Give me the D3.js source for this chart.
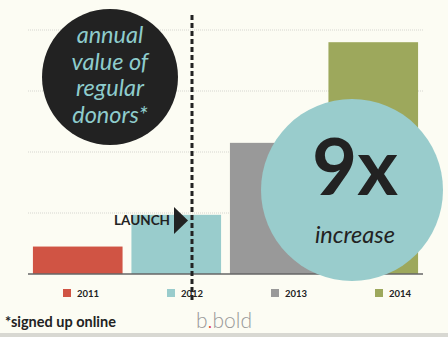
<!DOCTYPE html>
<html>
<head>
<meta charset="utf-8">
<script src="https://cdn.jsdelivr.net/npm/d3@7"></script>
<style>
  body { margin: 0; background: #fcfcf3; }
  svg { display: block; }
</style>
</head>
<body>
<div id="chart"></div>
<script>
// chart data
const years = ["2011", "2012", "2013", "2014"];
const donorValues = [0.45, 0.97, 2.15, 3.8];
const barColors = ["#d05444", "#99cccc", "#999999", "#9da85c"];
const gridTicks = [1, 2, 3, 4];
const bubbleLabel = ["annual", "value of", "regular", "donors*"];

function init() {
    let width = 448, height = 337;
    let margin = { top: 30, right: 25, bottom: 63, left: 28 };

    let svg = d3.select("#chart")
        .append("svg")
        .attr("width", width)
        .attr("height", height);

    svg.append("rect")
        .attr("width", width).attr("height", height)
        .attr("fill", "#fcfcf3");
    // gray strip at the bottom edge
    svg.append("rect")
        .attr("x", 0).attr("y", 333).attr("width", width).attr("height", 4)
        .attr("fill", "#d8d8d2");

    let x = d3.scaleBand()
        .domain(years)
        .range([margin.left, width - margin.right])
        .paddingInner(0.09)
        .paddingOuter(0.05);

    let y = d3.scaleLinear()
        .domain([0, 4])
        .range([height - margin.bottom, margin.top]);

    // gridlines
    svg.append("g")
        .selectAll("line")
        .data(gridTicks)
        .join("line")
        .attr("x1", margin.left)
        .attr("x2", width - margin.right)
        .attr("y1", d => y(d))
        .attr("y2", d => y(d))
        .attr("stroke", "#d6d6d0")
        .attr("stroke-width", 1)
        .attr("stroke-dasharray", "1,1");

    // bars
    svg.append("g")
        .selectAll("rect")
        .data(years)
        .join("rect")
        .attr("x", d => x(d))
        .attr("y", (d, i) => y(donorValues[i]))
        .attr("width", x.bandwidth())
        .attr("height", (d, i) => y(0) - y(donorValues[i]))
        .attr("fill", (d, i) => barColors[i]);

    // baseline
    svg.append("line")
        .attr("x1", margin.left).attr("x2", width - margin.right)
        .attr("y1", y(0)).attr("y2", y(0))
        .attr("stroke", "#666").attr("stroke-width", 1.5);

    // legend
    let lx = d3.scalePoint()
        .domain(years)
        .range([63, 375]);
    let legend = svg.append("g")
        .selectAll("g")
        .data(years)
        .join("g")
        .attr("transform", d => "translate(" + lx(d) + ",289)");
    legend.append("rect")
        .attr("width", 8).attr("height", 8)
        .attr("fill", (d, i) => barColors[i]);
    legend.append("text")
        .attr("x", 14).attr("y", 8)
        .attr("font-family", "Lato, sans-serif")
        .attr("font-weight", "bold")
        .attr("font-size", 9.5)
        .attr("fill", "#222")
        .text(d => d);

    // dark bubble with label
    svg.append("circle")
        .attr("cx", 110).attr("cy", 77).attr("r", 68)
        .attr("fill", "#222222");
    svg.append("g")
        .selectAll("text")
        .data(bubbleLabel)
        .join("text")
        .attr("x", 110)
        .attr("y", (d, i) => 43 + i * 26.7)
        .attr("text-anchor", "middle")
        .attr("font-family", "Lato, sans-serif")
        .attr("font-style", "italic")
        .attr("font-size", 23.5)
        .attr("fill", "#8ecccc")
        .text(d => d);

    // launch marker
    let launchX = 192;
    svg.append("line")
        .attr("x1", launchX).attr("x2", launchX)
        .attr("y1", 15).attr("y2", 303)
        .attr("stroke", "#222")
        .attr("stroke-width", 3)
        .attr("stroke-dasharray", "5,3");
    svg.append("path")
        .attr("d", "M174,207 L188,220.5 L174,234 Z")
        .attr("fill", "#222");
    svg.append("text")
        .attr("x", 170).attr("y", 225)
        .attr("text-anchor", "end")
        .attr("font-family", "Lato, sans-serif")
        .attr("font-weight", "bold")
        .attr("font-size", 13.5)
        .attr("fill", "#222")
        .text("LAUNCH");

    // big teal bubble
    svg.append("circle")
        .attr("cx", 352).attr("cy", 190).attr("r", 91)
        .attr("fill", "#99cccc");
    svg.append("text")
        .attr("x", 355).attr("y", 195)
        .attr("text-anchor", "middle")
        .attr("font-family", "Lato, sans-serif")
        .attr("font-weight", "bold")
        .attr("font-size", 78)
        .attr("fill", "#222")
        .text("9x");
    svg.append("text")
        .attr("x", 355).attr("y", 243)
        .attr("text-anchor", "middle")
        .attr("font-family", "Lato, sans-serif")
        .attr("font-style", "italic")
        .attr("font-size", 23.5)
        .attr("fill", "#222")
        .text("increase");

    // footnote and logo
    svg.append("text")
        .attr("x", 5).attr("y", 327)
        .attr("font-family", "Lato, sans-serif")
        .attr("font-weight", "bold")
        .attr("font-size", 14.5)
        .attr("fill", "#222")
        .text("*signed up online");
    let logo = svg.append("text")
        .attr("x", 196).attr("y", 328)
        .attr("font-family", "Lato, sans-serif")
        .attr("font-weight", 300)
        .attr("font-size", 21)
        .attr("fill", "#999");
    logo.append("tspan").text("b");
    logo.append("tspan").attr("fill", "#e04040").text(".");
    logo.append("tspan").text("bold");
}

window.addEventListener('load', init);
</script>
</body>
</html>
